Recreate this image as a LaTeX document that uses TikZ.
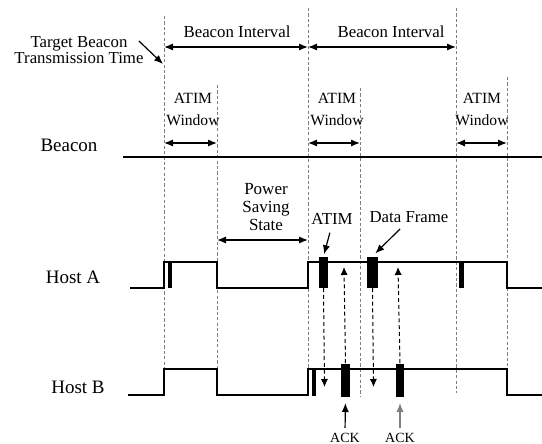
\documentclass[tikz,border=0pt]{standalone}
\usepackage{fontspec}
\setmainfont{Liberation Serif}
\usepackage{tikz}
\usetikzlibrary{arrows.meta, positioning}

\begin{document}
\begin{tikzpicture}[
  x=0.5pt, y=-0.5pt,
  txt/.style={inner sep=0pt, align=center, font=\fontsize{8.4}{8.4}\selectfont},
  wintxt/.style={inner sep=0pt, align=center, font=\fontsize{7.8}{11}\selectfont},
  rowtxt/.style={inner sep=0pt, font=\fontsize{9.5}{10}\selectfont},
  bar/.style={fill=black, inner sep=0pt, anchor=south},
  guide/.style={gray, line width=0.45pt, dash pattern=on 1.6pt off 1.1pt},
  signal/.style={line width=0.6pt},
  span/.style={{Latex[length=4.5pt,width=3.6pt]}-{Latex[length=4.5pt,width=3.6pt]}, line width=0.7pt},
  pointer/.style={-{Latex[length=4.5pt,width=3.6pt]}, line width=0.6pt},
  msg/.style={-{Latex[length=4pt,width=3.6pt]}, line width=0.5pt, dash pattern=on 2pt off 1.4pt}
]
\useasboundingbox (0,0) rectangle (542,444);

% timing guides
\draw[guide] (164,16) -- (164,369);
\draw[guide] (217,85) -- (217,369);
\draw[guide] (308,8) -- (308,369);
\draw[guide] (360,88) -- (360,397);
\draw[guide] (456,8) -- (456,393);
\draw[guide] (507,77) -- (507,369);

% labels
\node[txt] (tbtt) at (79,50) {Target Beacon\\Transmission Time};
\node[txt] (int1) at (237,32) {Beacon Interval};
\node[txt] (int2) at (391,32) {Beacon Interval};
\node[wintxt] (win1) at (193,109) {ATIM\\Window};
\node[wintxt] (win2) at (337,109) {ATIM\\Window};
\node[wintxt] (win3) at (482,109) {ATIM\\Window};
\node[txt, font=\fontsize{8.5}{9}\selectfont] (psave) at (266,207) {Power\\Saving\\State};
\node[rowtxt] (beacon) at (69,145) {Beacon};
\node[rowtxt] (hostA) at (73,277) {Host A};
\node[rowtxt] (hostB) at (78,387) {Host B};
\node[txt] (atim) at (332,219) {ATIM};
\node[txt] (data) at (409,217) {Data Frame};
\node[txt, font=\fontsize{7}{7}\selectfont] (ack1) at (345,438) {ACK};
\node[txt, font=\fontsize{7}{7}\selectfont] (ack2) at (400,438) {ACK};

% interval arrows
\coordinate (bi0) at (164,47);
\coordinate (bi1) at (308,47);
\coordinate (bi2) at (456,47);
\draw[span] (bi0) -- (bi1);
\draw[span] (bi1) -- (bi2);
\coordinate (w1s) at (164,143);
\coordinate (w1e) at (217,143);
\coordinate (w2s) at (308,143);
\coordinate (w2e) at (360,143);
\coordinate (w3s) at (456,143);
\coordinate (w3e) at (507,143);
\draw[span] (w1s) -- (w1e);
\draw[span] (w2s) -- (w2e);
\draw[span] (w3s) -- (w3e);
\coordinate (ps0) at (217,240);
\coordinate (ps1) at (308,240);
\draw[span] (ps0) -- (ps1);

% signals
\draw[signal] (123,157) -- (542,157);
\draw[signal] (130,288) -- (164,288) |- (217,262) |- (308,288) |- (507,262) |- (542,288);
\draw[signal] (128,395) -- (164,395) |- (217,369) |- (308,395) |- (507,369) |- (542,395);

% frames
\node[bar, minimum width=2pt, minimum height=13pt] (markA1) at (170,288) {};
\node[bar, minimum width=4.5pt, minimum height=15.5pt] (atimA) at (323.5,288) {};
\node[bar, minimum width=5.5pt, minimum height=15.5pt] (dataA) at (372.5,288) {};
\node[bar, minimum width=2.5pt, minimum height=13pt] (markA2) at (461.5,288) {};
\node[bar, minimum width=2pt, minimum height=13.5pt] (markB1) at (314,396) {};
\node[bar, minimum width=4.5pt, minimum height=16.5pt] (ackB1) at (345.5,397) {};
\node[bar, minimum width=4pt, minimum height=16.5pt] (ackB2) at (400,397) {};

% pointers
\coordinate (tbttTip) at (163,64);
\draw[pointer] ([xshift=-2.5pt,yshift=4.5pt]tbtt.east) -- (tbttTip);
\draw[pointer, shorten <=4pt, shorten >=1pt] (atim.south) -- (atimA.north);
\draw[pointer, shorten >=2pt] ([xshift=-4.5pt,yshift=-3pt]data.south) -- (dataA.north);
\draw[pointer, shorten <=2.5pt, shorten >=3pt] (ack1.north) -- (ackB1.south);
\draw[pointer, gray, shorten <=2.5pt, shorten >=3pt] (ack2.north) -- (ackB2.south);

% transfers
\coordinate (atimRx) at (324.5,387);
\coordinate (dataRx) at (373.5,387);
\coordinate (ackRx1) at (344,267);
\coordinate (ackRx2) at (398,267);
\draw[msg] (atimA.south) -- (atimRx);
\draw[msg] (dataA.south) -- (dataRx);
\draw[msg] (ackB1.north) -- (ackRx1);
\draw[msg] (ackB2.north) -- (ackRx2);
\end{tikzpicture}
\end{document}
